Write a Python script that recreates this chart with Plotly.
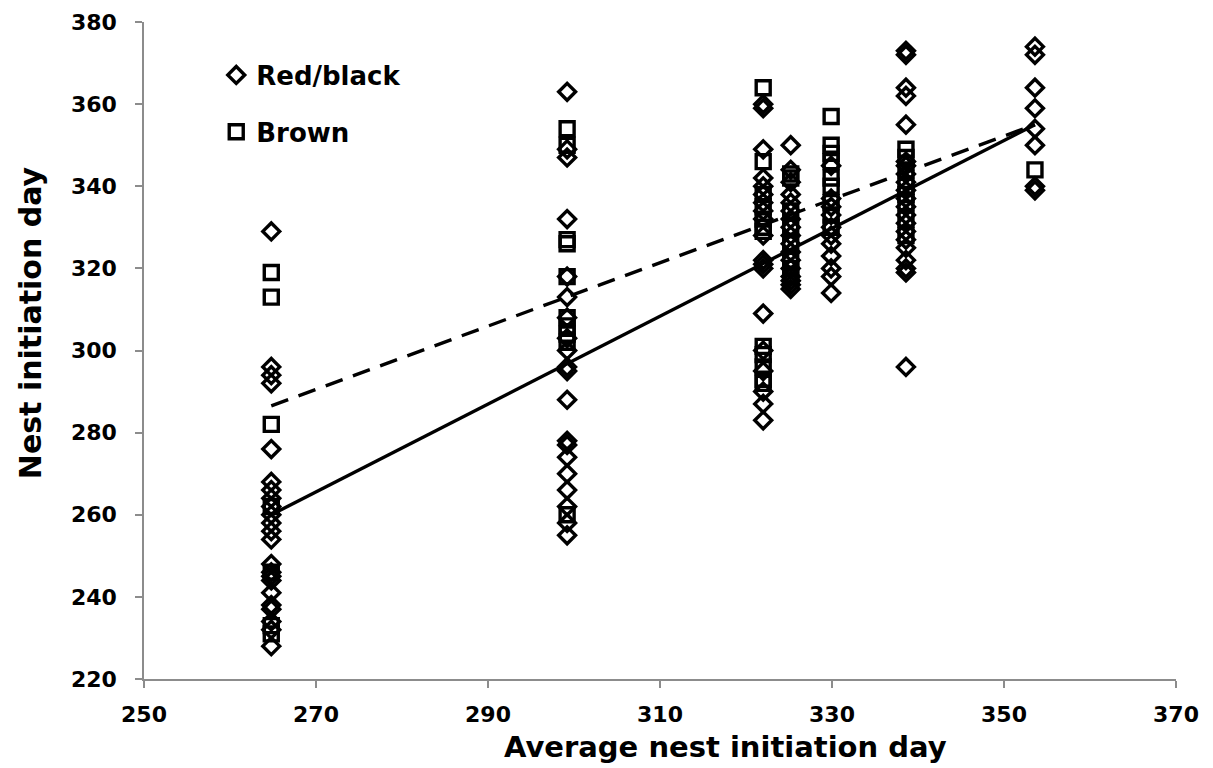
import plotly.graph_objects as go

# Column positions (average nest initiation day)
col_x = [264.8, 299.2, 322.0, 325.2, 329.9, 338.6, 353.6]

# Red/black (diamonds) values per column
rb_vals = [
    [329, 296, 294, 292, 276, 268, 266, 264, 262, 260, 258, 256, 254, 248, 246, 245, 244, 241, 238, 237, 234, 232, 228],
    [363, 349, 347, 332, 318, 313, 308, 303, 300, 296, 295, 288, 278, 277, 274, 270, 266, 262, 258, 255],
    [360, 359, 349, 342, 340, 338, 336, 334, 332, 328, 322, 321, 320, 309, 300, 295, 290, 287, 283],
    [350, 344, 341, 338, 336, 334, 332, 330, 328, 326, 324, 322, 320, 318, 317, 316, 315],
    [345, 337, 335, 333, 330, 328, 326, 323, 320, 318, 314],
    [373, 372, 364, 362, 355, 346, 345, 343, 341, 339, 337, 335, 333, 331, 329, 327, 325, 322, 320, 319, 296],
    [374, 372, 364, 359, 354, 350, 340, 339],
]

# Brown (squares) values per column
br_vals = [
    [319, 313, 282, 262, 246, 233, 231],
    [354, 350, 327, 326, 318, 308, 306, 304, 302, 260],
    [364, 346, 338, 335, 332, 330, 329, 301, 299, 296, 293, 292],
    [343, 342, 334, 330, 326, 322, 320, 318],
    [357, 350, 348, 346, 342, 340, 336, 333, 330],
    [349, 347, 344, 340, 338, 336, 332, 328],
    [344],
]

# Trend line endpoints
fit_x = [264.8, 353.6]
rb_fit_y = [260, 355]
br_fit_y = [286.5, 355]

x_title = "Average nest initiation day"
y_title = "Nest initiation day"

rb_x, rb_y = [], []
for cx, vals in zip(col_x, rb_vals):
    rb_x += [cx] * len(vals)
    rb_y += vals
br_x, br_y = [], []
for cx, vals in zip(col_x, br_vals):
    br_x += [cx] * len(vals)
    br_y += vals

font_family = "DejaVu Sans, Liberation Sans, Arial, sans-serif"

fig = go.Figure()
fig.add_trace(go.Scatter(
    x=rb_x, y=rb_y, mode="markers", name="Red/black", legendgroup="a",
    marker=dict(symbol="diamond-open", size=13, color="black", line=dict(width=3.4)),
))
fig.add_trace(go.Scatter(
    x=br_x, y=br_y, mode="markers", name="Brown", legendgroup="b",
    marker=dict(symbol="square-open", size=14, color="black", line=dict(width=3.4)),
))
fig.add_trace(go.Scatter(
    x=fit_x, y=rb_fit_y, mode="lines", showlegend=False,
    line=dict(color="black", width=3.4),
))
fig.add_trace(go.Scatter(
    x=fit_x, y=br_fit_y, mode="lines", showlegend=False,
    line=dict(color="black", width=3.4, dash="18px,11px"),
))

axis_common = dict(
    showgrid=False, zeroline=False, showline=True, linecolor="#8c8c8c", linewidth=1.5,
    ticks="outside", ticklen=7, tickcolor="#8c8c8c", tickwidth=1.5, automargin=False,
    tickfont=dict(family=font_family, size=22, color="black", weight="bold"),
)

fig.update_layout(
    width=1213, height=768,
    margin=dict(l=144, r=37, t=22, b=89),
    paper_bgcolor="white", plot_bgcolor="white",
    font=dict(family=font_family, color="black"),
    xaxis=dict(range=[250, 370], dtick=20, tick0=250, ticklabelstandoff=8, **axis_common),
    yaxis=dict(range=[220, 380], dtick=20, tick0=220, ticklabelstandoff=14, **axis_common),
    legend=dict(x=0.07, y=0.955, xanchor="left", yanchor="top",
                font=dict(size=26, family=font_family, weight="bold"),
                tracegroupgap=20, itemwidth=30, bgcolor="rgba(0,0,0,0)"),
    annotations=[
        dict(text="<b>" + x_title + "</b>", xref="paper", yref="paper", x=0.563, y=-0.1035,
             xanchor="center", yanchor="middle", showarrow=False, font=dict(size=29)),
        dict(text="<b>" + y_title + "</b>", xref="paper", yref="paper", x=-0.1105, y=0.543,
             xanchor="center", yanchor="middle", showarrow=False, textangle=-90, font=dict(size=30)),
    ],
)

fig.write_html("out.html")
